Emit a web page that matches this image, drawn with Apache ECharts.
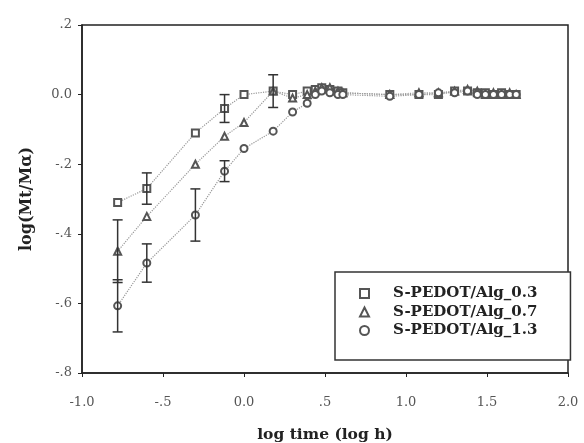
<!DOCTYPE html>
<html>
<head>
<meta charset="utf-8">
<script src="https://cdn.jsdelivr.net/npm/echarts@6/dist/echarts.min.js"></script>
<style>
html,body{margin:0;padding:0;background:#fff;}
#chart{width:584px;height:443px;}
</style>
</head>
<body>
<div id="chart"></div>
<script>
// ---- data ----
const seriesNames = ['S-PEDOT/Alg_0.3', 'S-PEDOT/Alg_0.7', 'S-PEDOT/Alg_1.3'];
const xTime = [-0.78, -0.6, -0.3, -0.12, 0.0, 0.18, 0.3, 0.39, 0.44, 0.48, 0.53, 0.58, 0.61, 0.9, 1.08, 1.2, 1.3, 1.38, 1.44, 1.49, 1.54, 1.59, 1.64, 1.68];
const y03 = [-0.31, -0.27, -0.11, -0.04, 0.0, 0.01, 0.0, 0.01, 0.015, 0.02, 0.015, 0.01, 0.005, 0.0, 0.0, 0.0, 0.01, 0.01, 0.005, 0.005, 0.0, 0.005, 0.0, 0.0];
const y07 = [-0.45, -0.35, -0.2, -0.12, -0.08, 0.01, -0.01, 0.0, 0.01, 0.02, 0.02, 0.01, 0.005, 0.0, 0.005, 0.005, 0.01, 0.015, 0.01, 0.0, 0.005, 0.0, 0.005, 0.0];
const y13 = [-0.607, -0.484, -0.346, -0.22, -0.155, -0.105, -0.05, -0.025, 0.0, 0.01, 0.005, 0.0, 0.0, -0.005, 0.0, 0.005, 0.005, 0.01, 0.0, 0.0, 0.0, 0.0, 0.0, 0.0];
const e03 = [0, 0.045, 0, 0.04, 0, 0.047, 0, 0, 0, 0, 0, 0, 0, 0, 0, 0, 0, 0, 0, 0, 0, 0, 0, 0];
const e07 = [0.09, 0, 0, 0, 0, 0, 0, 0, 0, 0, 0, 0, 0, 0, 0, 0, 0, 0, 0, 0, 0, 0, 0, 0];
const e13 = [0.075, 0.055, 0.075, 0.03, 0, 0, 0, 0, 0, 0, 0, 0, 0, 0, 0, 0, 0, 0, 0, 0, 0, 0, 0, 0];
const xTickValues = [-1, -0.5, 0, 0.5, 1, 1.5, 2];
const xTickLabels = ['-1.0', '-.5', '0.0', '.5', '1.0', '1.5', '2.0'];
const yTickValues = [-0.8, -0.6, -0.4, -0.2, 0, 0.2];
const yTickLabels = ['-.8', '-.6', '-.4', '-.2', '0.0', '.2'];

// ---- build ----
function lookup(vals, labels, v) {
  for (let i = 0; i < vals.length; i++) if (Math.abs(vals[i] - v) < 1e-6) return labels[i];
  return '';
}
function pairs(xs, ys) { return xs.map((x, i) => [x, ys[i]]); }
function errPairs(xs, ys, es) {
  const out = [];
  xs.forEach((x, i) => { if (es[i] > 0) out.push([x, ys[i], es[i]]); });
  return out;
}
const serif = "'DejaVu Serif', 'Liberation Serif', serif";
const symbols = ['emptyRect', 'emptyTriangle', 'emptyCircle'];
const ys = [y03, y07, y13];
const es = [e03, e07, e13];

const series = [];
ys.forEach((y, k) => {
  series.push({
    name: seriesNames[k],
    type: 'line',
    data: pairs(xTime, y),
    symbol: symbols[k],
    symbolSize: 7,
    itemStyle: { color: '#555', borderWidth: 1.2 },
    lineStyle: { color: '#999', type: 'dotted', width: 1.2 },
    z: 3
  });
  series.push({
    type: 'custom',
    data: errPairs(xTime, y, es[k]),
    renderItem: function (params, api) {
      const x = api.value(0), yv = api.value(1), e = api.value(2);
      const top = api.coord([x, yv + e]);
      const bot = api.coord([x, yv - e]);
      const hw = 5;
      const st = { stroke: '#333', lineWidth: 1.5 };
      return {
        type: 'group',
        children: [
          { type: 'line', shape: { x1: top[0], y1: top[1], x2: bot[0], y2: bot[1] }, style: st },
          { type: 'line', shape: { x1: top[0] - hw, y1: top[1], x2: top[0] + hw, y2: top[1] }, style: st },
          { type: 'line', shape: { x1: bot[0] - hw, y1: bot[1], x2: bot[0] + hw, y2: bot[1] }, style: st }
        ]
      };
    },
    z: 4
  });
});

const chart = echarts.init(document.getElementById('chart'));
chart.setOption({
  animation: false,
  backgroundColor: '#fff',
  grid: { left: 82, right: 16, top: 25, bottom: 70, show: true, borderColor: '#222', borderWidth: 1.5, outerBoundsMode: 'none', containLabel: false },
  xAxis: {
    type: 'value', min: -1, max: 2, interval: 0.5,
    axisLine: { onZero: false, lineStyle: { color: '#222', width: 1.5 } },
    axisTick: { show: true, length: 4, lineStyle: { color: '#222' } },
    splitLine: { show: false },
    axisLabel: { formatter: v => lookup(xTickValues, xTickLabels, v), fontFamily: serif, fontSize: 13, color: '#555', margin: 23 },
    name: 'log time (log h)', nameLocation: 'middle', nameGap: 54,
    nameTextStyle: { fontFamily: serif, fontWeight: 'bold', fontSize: 15.5, color: '#222' }
  },
  yAxis: {
    type: 'value', min: -0.8, max: 0.2, interval: 0.2,
    axisLine: { onZero: false, lineStyle: { color: '#222', width: 1.5 } },
    axisTick: { show: true, length: 4, lineStyle: { color: '#222' } },
    splitLine: { show: false },
    axisLabel: { formatter: v => lookup(yTickValues, yTickLabels, v), fontFamily: serif, fontSize: 13, color: '#555', margin: 10 },
    name: 'log(Mt/Mα)', nameLocation: 'middle', nameGap: 47, nameRotate: 90,
    nameTextStyle: { fontFamily: serif, fontWeight: 'bold', fontSize: 16, color: '#222' }
  },
  legend: {
    orient: 'vertical',
    left: 335, top: 272,
    padding: [14, 33, 22, 24],
    itemGap: 3.5,
    itemWidth: 9, itemHeight: 9,
    borderColor: '#333', borderWidth: 1.5,
    backgroundColor: '#fff',
    data: seriesNames.map((n, i) => ({ name: n, icon: symbols[i] })),
    textStyle: { fontFamily: serif, fontWeight: 'bold', fontSize: 15, color: '#222', padding: [0, 0, 0, 19] }
  },
  series: series
});
</script>
</body>
</html>
